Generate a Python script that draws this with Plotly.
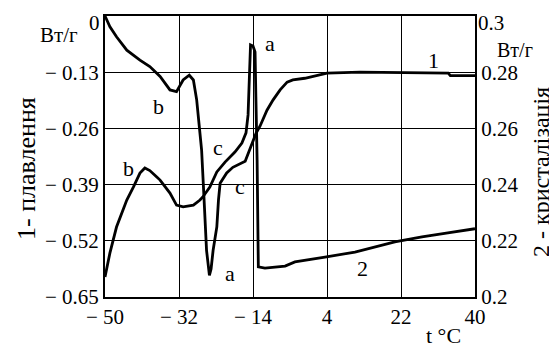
import plotly.graph_objects as go

# Curve 1: melting (left axis, W/g)
t1 = [-50, -48.8, -47.2, -44.7, -41.5, -39.1, -36.6, -34.2, -32.6, -31.0, -29.5, -28.5,
      -27.7, -26.9, -26.5, -26.1, -25.3, -24.6, -24.2, -23.7, -22.8, -22.4, -22.0, -20.4,
      -18.9, -15.9, -14.8, -14.0, -13.2, -12.3, -10.6, -9.1, -7.4, -5.7, -4.3, -1.4,
      1.6, 4.0, 12.0, 20.0, 28.0, 33.5, 34.0, 40.0]
melt = [0.0, -0.025, -0.048, -0.079, -0.102, -0.117, -0.140, -0.171, -0.175, -0.148, -0.137, -0.148,
        -0.194, -0.271, -0.31, -0.386, -0.542, -0.600, -0.585, -0.542, -0.488, -0.426, -0.387, -0.363,
        -0.350, -0.336, -0.310, -0.287, -0.270, -0.255, -0.218, -0.194, -0.171, -0.153, -0.148, -0.144,
        -0.137, -0.132, -0.130, -0.131, -0.131, -0.132, -0.138, -0.138]

# Curve 2: crystallisation (right axis, W/g)
t2 = [-50, -48.8, -47.2, -44.7, -43.1, -42.3, -41.5, -40.3, -39.1, -37.4, -36.6, -34.2,
      -32.6, -31.0, -28.5, -26.9, -26.2, -24.5, -22.8, -20.8, -18.4, -16.7, -15.7, -15.2,
      -14.85, -14.6, -14.0, -13.5, -13.3, -13.0, -12.7, -11.1, -6.2, -3.8, 3.5, 10.8,
      20.5, 27.1, 33.4, 39.5, 40.0]
cryst = [0.2071, 0.2157, 0.2249, 0.2345, 0.2391, 0.2416, 0.2441, 0.2459, 0.2450, 0.2427, 0.2416, 0.2370,
         0.2327, 0.2321, 0.2327, 0.2345, 0.2356, 0.2391, 0.2445, 0.2480, 0.2516, 0.2548, 0.2584, 0.2648,
         0.2808, 0.2897, 0.2893, 0.2872, 0.2712, 0.2488, 0.2107, 0.2103, 0.2110, 0.2125, 0.2142, 0.2160,
         0.2196, 0.2214, 0.2228, 0.2242, 0.2243]

x_ticks = [-50, -32, -14, 4, 22, 40]
x_ticktext = ["\u2212 50", "\u2212 32", "\u2212 14", "4", "22", "40"]
y1_ticks = [-0.65, -0.52, -0.39, -0.26, -0.13, 0]
y1_ticktext = ["\u2212 0.65", "\u2212 0.52", "\u2212 0.39", "\u2212 0.26", "\u2212 0.13", ""]
y1_top_label = "0"
y2_ticks = [0.2, 0.22, 0.24, 0.26, 0.28, 0.3]
y2_ticktext = ["0.2", "0.22", "0.24", "0.26", "0.28", ""]
y2_top_label = "0.3"

FONT = "Liberation Serif"
FS_TICK = 21
FS_LBL = 22

fig = go.Figure()
fig.add_trace(go.Scatter(x=t1, y=melt, mode="lines", line=dict(color="black", width=2.8),
                         showlegend=False, yaxis="y"))
fig.add_trace(go.Scatter(x=t2, y=cryst, mode="lines", line=dict(color="black", width=2.8),
                         showlegend=False, yaxis="y2"))

# page has an 8px body margin; design in page pixels, then offset
OFF = 8
PW, PH = 557, 349
W, H = PW - OFF, PH - OFF
L, R, T, B = 105, 475, 16, 297  # plot area in page pixels


def px(x):
    return (x - L) / (R - L)


def py(y):
    return (B - y) / (B - T)


labels = [
    ("b", 158, 107), ("b", 128, 168), ("c", 218, 147), ("c", 240, 187),
    ("a", 270, 43), ("a", 230, 273), ("1", 433, 60), ("2", 362, 268),
]
ann = []
for txt, x, y in labels:
    ann.append(dict(text=txt, x=px(x), y=py(y), xref="paper", yref="paper",
                    showarrow=False, xanchor="center", yanchor="middle",
                    font=dict(family=FONT, size=FS_LBL, color="black")))
for txt, x, y, s in [("Вт/г", 59, 35, 21), ("Вт/г", 515, 50, 20), ("t °C", 443, 336, 22)]:
    ann.append(dict(text=txt, x=px(x), y=py(y), xref="paper", yref="paper",
                    showarrow=False, xanchor="center", yanchor="middle",
                    font=dict(family=FONT, size=s, color="black")))
# top tick labels placed as annotations so they stay inside the page
ann.append(dict(text=y1_top_label, x=px(102), y=py(9), xref="paper", yref="paper",
                showarrow=False, xanchor="right", yanchor="top",
                font=dict(family=FONT, size=FS_TICK, color="black")))
ann.append(dict(text=y2_top_label, x=px(476), y=py(9), xref="paper", yref="paper",
                showarrow=False, xanchor="left", yanchor="top",
                font=dict(family=FONT, size=FS_TICK, color="black")))
ann.append(dict(text="1- плавлення", x=px(26), y=py(169), xref="paper", yref="paper",
                showarrow=False, textangle=-90, xanchor="center", yanchor="middle",
                font=dict(family=FONT, size=26, color="black")))
ann.append(dict(text="2 - кристалізація", x=px(541), y=py(172), xref="paper", yref="paper",
                showarrow=False, textangle=-90, xanchor="center", yanchor="middle",
                font=dict(family=FONT, size=24, color="black")))

axis_common = dict(showline=True, linecolor="black", linewidth=2, ticks="", automargin=False,
                   ticklabeloverflow="allow",
                   tickfont=dict(family=FONT, size=FS_TICK, color="black"), zeroline=False)

fig.update_layout(
    width=W, height=H,
    margin=dict(l=L - OFF, r=PW - R, t=T - OFF, b=PH - B, pad=0),
    paper_bgcolor="white", plot_bgcolor="white",
    xaxis=dict(range=[-50, 40], tickvals=x_ticks, ticktext=x_ticktext, mirror=True,
               showgrid=True, gridcolor="black", gridwidth=1, ticklabelstandoff=0,
               **axis_common),
    yaxis=dict(range=[-0.65, 0], tickvals=y1_ticks, ticktext=y1_ticktext, mirror=True,
               showgrid=True, gridcolor="black", gridwidth=1, ticklabelstandoff=0,
               **axis_common),
    yaxis2=dict(range=[0.2, 0.3], tickvals=y2_ticks, ticktext=y2_ticktext, overlaying="y",
                side="right", showgrid=False, ticklabelstandoff=0, **axis_common),
    annotations=ann,
)

fig.write_html("out.html")
